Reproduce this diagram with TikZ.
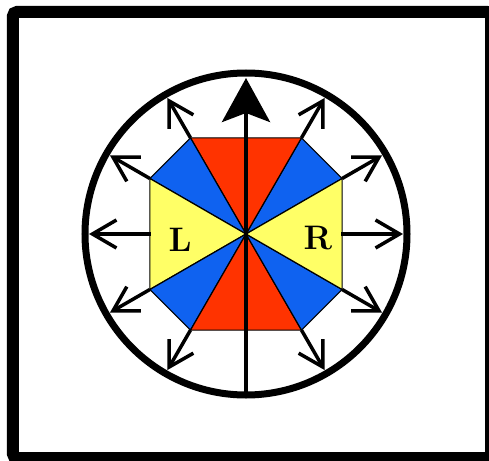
\documentclass[tikz,border=0pt]{standalone}
\usepackage{fontspec}
\usetikzlibrary{arrows.meta, calc}
\definecolor{wedgeRed}{HTML}{FF3300}
\definecolor{wedgeBlue}{HTML}{0F62F0}
\definecolor{wedgeYellow}{HTML}{FFFF66}
\newcommand{\bigletter}{\fontsize{34pt}{34pt}\selectfont\bfseries}
\tikzset{
  wedge/.style={fill=#1, draw=black, line width=1.2pt, line join=round},
  ray/.style={-{Straight Barb[length=24pt, width=28pt]}, line width=3.5pt},
  mainaxis/.style={line width=4.5pt, -{Stealth[length=44pt, width=48pt, inset=9pt]}},
  rim/.style={draw=black, line width=7pt},
  letter/.style={font=\bigletter, inner sep=0pt},
  frame/.style={draw=black, line width=12pt, rounded corners=4pt},
}
\begin{document}
\begin{tikzpicture}[x=1pt, y=1pt]
\useasboundingbox (-246,-226) rectangle (243,234);
\clip (-246,-226) rectangle (243,234);
\fill[white] (-246,-226) rectangle (243,234);

% centre and corners of the coloured star
\coordinate (o) at (0,0);
\foreach \a in {30,60,120,150,210,240,300,330}
  \coordinate (in\a) at (\a:111);
\coordinate (in0) at (0:95);
\coordinate (in180) at (180:95);
\foreach \a in {0,30,60,120,150,180,210,240,300,330}
  \coordinate (tip\a) at (\a:157);
\coordinate (top) at (90:156);
\coordinate (bot) at (270:160);

% wedges
\foreach \s/\e/\c in {30/60/wedgeBlue, 60/120/wedgeRed, 120/150/wedgeBlue,
    150/210/wedgeYellow, 210/240/wedgeBlue, 240/300/wedgeRed,
    300/330/wedgeBlue, 330/30/wedgeYellow}
  \filldraw[wedge=\c] (o) -- (in\s) -- (in\e) -- cycle;

% arrows out to the rim
\foreach \a in {0,30,60,120,150,180,210,240,300,330}
  \draw[ray] (in\a) -- (tip\a);

% vertical axis
\draw[mainaxis] (bot) -- (top);

% rim
\draw[rim] (o) circle (161);

% labels
\node[letter] (lblL) at (-66,-6) {L};
\node[letter] (lblR) at (72,-4) {R};

% frame
\draw[frame] (-233,-224) rectangle (245,222);
\end{tikzpicture}
\end{document}
